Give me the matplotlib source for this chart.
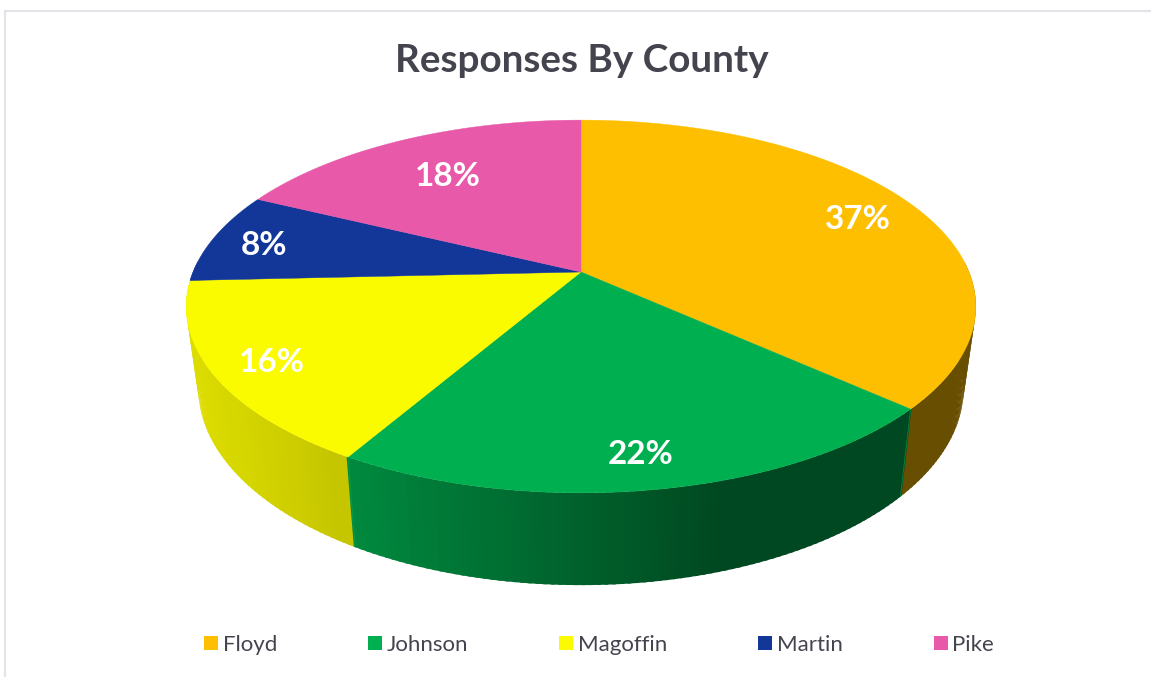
import matplotlib
matplotlib.use('Agg')
import matplotlib.pyplot as plt
from matplotlib.patches import Patch
import numpy as np

counties = ['Floyd', 'Johnson', 'Magoffin', 'Martin', 'Pike']
shares = [37, 22, 16, 8, 18]

colors = ['#FDBF00', '#00B050', '#FBFB00', '#123799', '#E959A9']
text_color = '#44444F'
label_offsets = [(0, 5), (1, 9), (-10, 6), (-11, 3), (18, 17)]

plt.rcParams['font.family'] = ['Lato', 'DejaVu Sans']

# perspective of the pie, fitted to the reference (pixels)
CX, TOP_Y, BOT_Y = 581, 272, 352
TOP_A, TOP_B = 388, 180
BOT_A, BOT_B = 376, 190
K = 0.185


def project(theta, r, cy, a, b):
  u, v = r * np.sin(theta), r * np.cos(theta)
  w = 1 + K * v
  return CX + a * u / w, cy - b * v / w


def top(theta, r=1.0):
  return project(theta, r, TOP_Y, TOP_A, TOP_B)


def bottom(theta):
  return project(theta, 1.0, BOT_Y, BOT_A, BOT_B)


def shade(x):
  # side of the pie gets darker from left to right
  return np.interp(x, [190, 350, 720], [0.88, 0.78, 0.41])


def main():
  fig = plt.figure(figsize=(11.51, 6.77), dpi=100)
  ax = fig.add_axes([0, 0, 1, 1])
  ax.set_xlim(0, 1151)
  ax.set_ylim(677, 0)
  ax.axis('off')

  # faint chart frame, open on the right and at the bottom
  ax.plot([5.5, 5.5, 1151], [677, 10.5, 10.5], color='#E4E4E8', lw=1.6, solid_joinstyle='miter')

  edges = 2 * np.pi * np.concatenate([[0], np.cumsum(shares)]) / sum(shares)

  # side strips, painted back to front and slightly overlapping so no seams show
  strips = []
  for i, color in enumerate(colors):
    base = np.array(matplotlib.colors.to_rgb(color))
    n = max(int((edges[i + 1] - edges[i]) * 60), 2)
    t = np.linspace(edges[i], edges[i + 1], n + 1)
    for j in range(n):
      mid = (t[j] + t[j + 1]) / 2
      if np.cos(mid) < 0.05:
        strips.append((np.cos(mid), t[j], t[j + 1], base))
  strips.sort(key=lambda s: -s[0])
  pad = 0.004
  for _, t0, t1, base in strips:
    t = np.array([t0 - pad, t1 + pad])
    tx, ty = top(t)
    bx, by = bottom(t)
    c = tuple(base * shade(tx.mean()))
    ax.fill([tx[0], tx[1], bx[1], bx[0]], [ty[0], ty[1], by[1], by[0]],
            facecolor=c, edgecolor='none', lw=0, zorder=2)

  # thin light seam where one slice side starts
  for i, color in enumerate(colors):
    tx, ty = top(edges[i])
    bx, by = bottom(edges[i])
    if ty > TOP_Y + 100:
      ax.plot([tx, bx], [ty, by], color=colors[1], lw=0.6, alpha=0.6, zorder=3)

  # top faces
  for i, color in enumerate(colors):
    n = max(int((edges[i + 1] - edges[i]) * 60), 2)
    t = np.linspace(edges[i], edges[i + 1], n + 1)
    tx, ty = top(t)
    ax.fill(np.r_[CX, tx], np.r_[TOP_Y, ty], facecolor=color, edgecolor=color, lw=0.3, zorder=4)

  # slice labels
  for i, share in enumerate(shares):
    x, y = top((edges[i] + edges[i + 1]) / 2, 0.83)
    ax.text(x + label_offsets[i][0], y + label_offsets[i][1], f'{share}%', color='white',
            fontsize=24, fontweight='bold', ha='center', va='center', zorder=5)

  ax.text(582, 61, 'Responses By County', color=text_color, fontsize=27.8, fontweight='bold',
          ha='center', va='center')

  handles = [Patch(facecolor=c, edgecolor='none') for c in colors]
  ax.legend(handles, counties, loc='center', bbox_to_anchor=(599 / 1151, 1 - 645 / 677),
            bbox_transform=fig.transFigure, ncol=5, frameon=False, fontsize=16, labelcolor=text_color,
            handlelength=0.63, handleheight=0.63, handletextpad=0.2, columnspacing=4.1,
            borderpad=0, borderaxespad=0)

  fig.savefig('out.png', dpi=100)


if __name__ == '__main__':
  main()
